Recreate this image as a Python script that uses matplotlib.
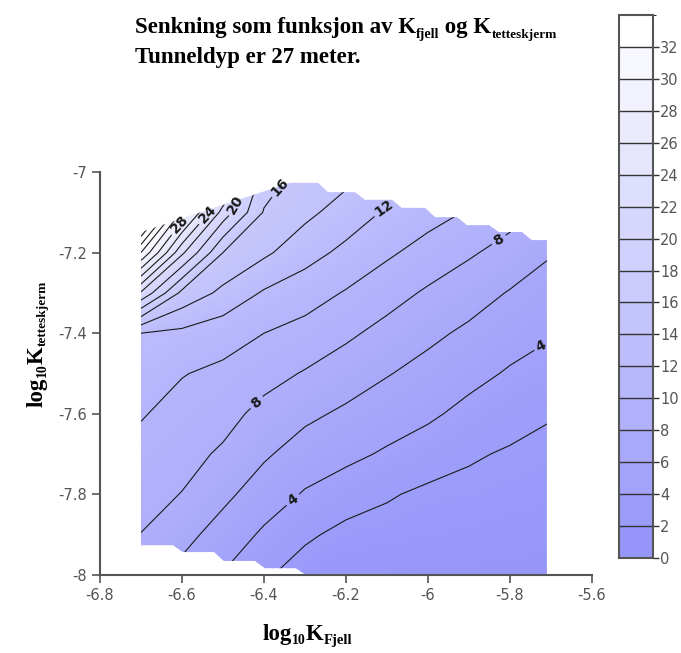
import numpy as np
import matplotlib
matplotlib.use('Agg')
import matplotlib.pyplot as plt
from matplotlib.colors import LinearSegmentedColormap, BoundaryNorm
from matplotlib.patches import Polygon
import matplotlib.transforms as mtransforms
import matplotlib.cm as cm

# grid of log10 K_fjell (columns) and log10 K_tetteskjerm (rows)
x_grid = [-6.7, -6.6, -6.5, -6.4, -6.3, -6.2, -6.1, -6.0, -5.9, -5.8, -5.7]
y_grid = [-8.0, -7.9, -7.8, -7.7, -7.6, -7.5, -7.4, -7.3, -7.2, -7.1, -7.0]

# senkning (drawdown), one row per y_grid value
z_rows = [
    [7.3, 5.4, 3.9, 2.3, 1.0, 0.6, 0.45, 0.35, 0.3, 0.25, 0.2],
    [7.96, 6.63, 5.17, 3.69, 2.36, 1.4, 1.24, 1.05, 0.9, 0.77, 0.66],
    [8.69, 7.94, 6.46, 5.02, 3.82, 3.03, 2.2, 1.6, 1.51, 1.3, 1.13],
    [9.40, 8.65, 7.72, 6.26, 5.11, 4.46, 3.76, 3.02, 2.21, 1.81, 1.59],
    [10.14, 9.34, 8.67, 7.42, 6.42, 5.66, 4.95, 4.34, 3.44, 2.68, 2.1],
    [11.07, 10.09, 9.57, 8.69, 7.85, 6.99, 6.11, 5.35, 4.6, 3.79, 3.15],
    [12.0, 11.53, 10.84, 10.0, 9.32, 8.36, 7.38, 6.44, 5.63, 4.83, 4.17],
    [21.75, 15.48, 13.51, 11.78, 10.89, 9.85, 8.77, 7.73, 6.85, 5.87, 5.13],
    [32.0, 22.4, 16.0, 14.37, 12.76, 11.51, 10.31, 9.24, 8.24, 7.29, 6.12],
    [42.0, 29.6, 21.2, 15.84, 14.5, 13.12, 11.75, 10.75, 9.84, 8.7, 7.08],
    [52.0, 36.8, 26.4, 17.3, 15.3, 14.7, 13.2, 12.2, 11.4, 10.1, 8.0],
]

# extent of the computed region (stair-stepped edges)
x_left, x_right = -6.7, -5.71
bottom_step_x = [-6.7, -6.61, -6.51, -6.41, -6.31]
bottom_step_y = [-7.926, -7.943, -7.965, -7.983, -8.0]
top_left_y = -7.149
top_step_x = [-6.337, -6.256, -6.166, -6.076, -5.995, -5.917, -5.839, -5.759]
top_step_y = [-7.027, -7.050, -7.069, -7.089, -7.112, -7.132, -7.149, -7.169]

plain_levels = [2, 6, 10, 14, 18, 22, 26, 30, 32, 34, 36, 38]
label_levels = [4, 8, 12, 16, 20, 24, 28]
label_pos = [(-6.329, -7.814), (-5.727, -7.424), (-6.417, -7.573), (-5.829, -7.164),
             (-6.100, -7.102), (-6.349, -7.050), (-6.451, -7.094), (-6.532, -7.114),
             (-6.605, -7.132)]

cbar_ticks = [0, 2, 4, 6, 8, 10, 12, 14, 16, 18, 20, 22, 24, 26, 28, 30, 32]
cbar_bounds = cbar_ticks + [34]

xticks = [-6.8, -6.6, -6.4, -6.2, -6.0, -5.8, -5.6]
xtick_labels = ['-6.8', '-6.6', '-6.4', '-6.2', '-6', '-5.8', '-5.6']
yticks = [-8.0, -7.8, -7.6, -7.4, -7.2, -7.0]
ytick_labels = ['-8', '-7.8', '-7.6', '-7.4', '-7.2', '-7']

X, Y = np.meshgrid(x_grid, y_grid)
Z = np.array(z_rows)

cmap = LinearSegmentedColormap.from_list('lav', ['#9696fa', '#ffffff'])
cmap.set_over('white')

fig = plt.figure(figsize=(6.81, 6.53), dpi=100)
ax = fig.add_axes([0.1468, 0.1194, 0.7225, 0.6172])

# outline of the region, stairs with slightly slanted risers
rs = 0.012
verts = [(x_left, bottom_step_y[0])]
for i in range(1, len(bottom_step_x)):
    verts.append((bottom_step_x[i] - rs, bottom_step_y[i - 1]))
    verts.append((bottom_step_x[i] + rs, bottom_step_y[i]))
verts.append((x_right, bottom_step_y[-1]))
verts.append((x_right, top_step_y[-1]))
for i in range(len(top_step_x) - 1, 0, -1):
    verts.append((top_step_x[i] + rs, top_step_y[i]))
    verts.append((top_step_x[i] - rs, top_step_y[i - 1]))
verts.append((top_step_x[0], top_step_y[0]))
verts.append((x_left, top_left_y))
clip = Polygon(verts, closed=True, transform=ax.transData, facecolor='none', edgecolor='none')

cf = ax.contourf(X, Y, Z, levels=np.linspace(0, 34, 137), cmap=cmap, extend='max')
cf.set_clip_path(clip)
cs = ax.contour(X, Y, Z, levels=plain_levels, colors='#1a1a1a', linewidths=0.8)
cs.set_clip_path(clip)
cs2 = ax.contour(X, Y, Z, levels=label_levels, colors='#1a1a1a', linewidths=0.8)
cs2.set_clip_path(clip)
labels = ax.clabel(cs2, manual=label_pos, inline=True, fontsize=10, fmt='%d')
for t in labels:
    t.set_fontweight('bold')

ax.set_xlim(-6.8, -5.6)
ax.set_ylim(-8.0, -7.0)
for s in ['top', 'right']:
    ax.spines[s].set_visible(False)
for s in ['left', 'bottom']:
    ax.spines[s].set_color('#555555')
    ax.spines[s].set_linewidth(1.5)
ax.set_xticks(xticks)
ax.set_xticklabels(xtick_labels)
ax.set_yticks(yticks)
ax.set_yticklabels(ytick_labels)
ax.tick_params(colors='#555555', labelcolor='#555555', labelsize=10.5, length=6, width=1.2)

# colour bar with 2-unit bands
cax = fig.add_axes([0.909, 0.1455, 0.05, 0.8315])
norm = BoundaryNorm(cbar_bounds, cmap.N)
sm = cm.ScalarMappable(norm=norm, cmap=cmap)
cb = fig.colorbar(sm, cax=cax, ticks=cbar_ticks, drawedges=True)
cb.outline.set_edgecolor('#555555')
cb.outline.set_linewidth(1.5)
cb.dividers.set_color('#333333')
cb.dividers.set_linewidth(1.0)
cax.tick_params(colors='#333333', labelcolor='#555555', labelsize=10.5, length=4, width=1, pad=1)


renderer = fig.canvas.get_renderer()


def rich_text(x, y, pieces, vertical=False):
    # pieces: (text, fontsize, baseline drop in px, kern in px before it)
    pos = 0.0
    for s, size, drop, kern in pieces:
        pos += kern
        if vertical:
            tr = mtransforms.offset_copy(fig.transFigure, fig=fig, x=drop, y=pos, units='dots')
            t = fig.text(x, y, s, transform=tr, family='Liberation Serif', weight='bold',
                         fontsize=size, rotation=90, rotation_mode='anchor',
                         ha='left', va='baseline')
            pos += t.get_window_extent(renderer).height
        else:
            tr = mtransforms.offset_copy(fig.transFigure, fig=fig, x=pos, y=-drop, units='dots')
            t = fig.text(x, y, s, transform=tr, family='Liberation Serif', weight='bold',
                         fontsize=size, ha='left', va='baseline')
            pos += t.get_window_extent(renderer).width


rich_text(0.198, 0.9495, [('Senkning som funksjon av K', 16.5, 0, 0), ('fjell', 10, 5, 0),
                          (' og K', 16.5, 0, 0), ('tetteskjerm', 9.5, 5, 0)])
rich_text(0.198, 0.9035, [('Tunneldyp er 27 meter.', 16.5, 0, 0)])
rich_text(0.386, 0.02, [('log', 16.5, 0, 0), ('10', 10, 4, 0), ('K', 16.5, 0, 0),
                        ('Fjell', 10.5, 4, 0)])
rich_text(0.062, 0.377, [('log', 16.5, 0, 0), ('10', 10, 4, 0), ('K', 16.5, 0, 0),
                         ('tetteskjerm', 9.5, 4, 0)], vertical=True)

fig.savefig('out.png', dpi=100)
